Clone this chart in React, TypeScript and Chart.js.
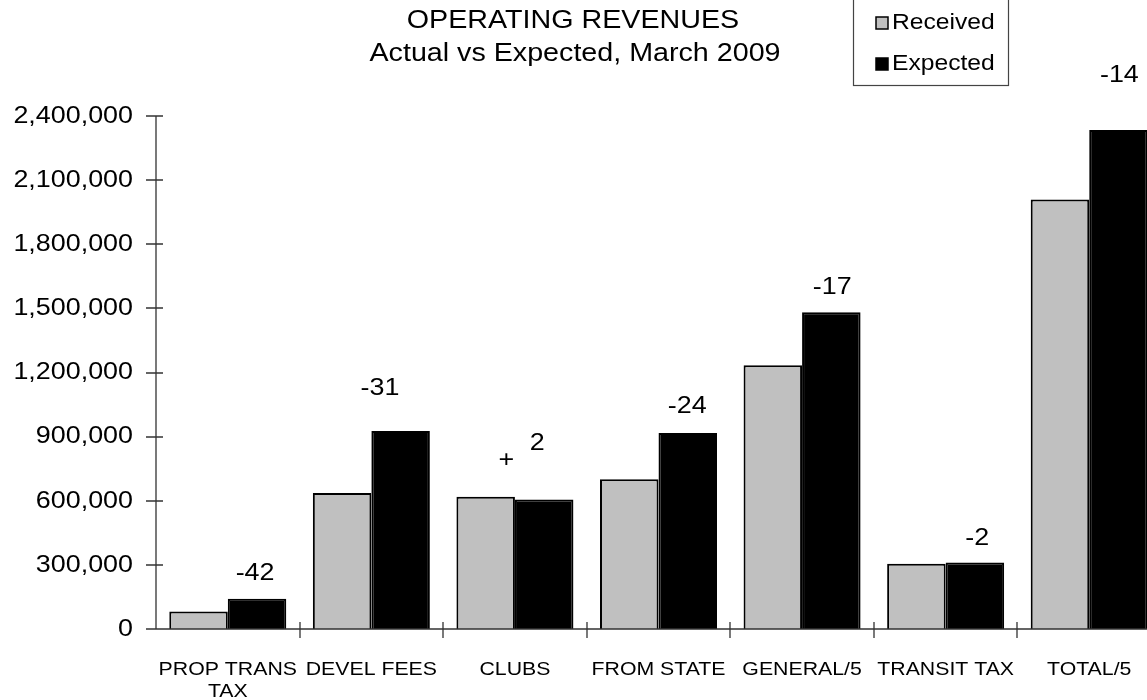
import React, { useEffect, useRef } from "react";
import { Chart, registerables } from "chart.js";

Chart.register(...registerables);

// ---------- data ----------
const categories: (string | string[])[] = [
  ["PROP TRANS", "TAX"],
  "DEVEL FEES",
  "CLUBS",
  "FROM STATE",
  "GENERAL/5",
  "TRANSIT TAX",
  "TOTAL/5",
];
const seriesNames = ["Received", "Expected"];
const received = [83000, 637000, 620000, 701000, 1235000, 306000, 2010000];
const expected = [143000, 927000, 607000, 918000, 1482000, 312000, 2335000];

const yMin = 0;
const yMax = 2400000;
const yStep = 300000;

// percent-change annotations (value = height in data units, shift = fraction of category width)
const changeLabels = ["-42", "-31", "2", "-24", "-17", "-2", "-14"];
const changeLabelValues = [263000, 1128000, 871000, 1043000, 1600000, 427000, 2590000];
const changeLabelShift = [0.19, 0.06, 0.155, 0.2, 0.21, 0.22, 0.21];
const signLabels = ["", "", "+", "", "", "", ""];
const signLabelValues = [0, 0, 791000, 0, 0, 0, 0];
const signLabelShift = [0, 0, -0.06, 0, 0, 0, 0];

const titleLines = ["OPERATING REVENUES", "Actual vs Expected, March 2009"];

// ---------- styling ----------
const FONT = '"Liberation Sans", Arial, sans-serif';
const STRETCH = 1.12;
const GREY = "#C0C0C0";
const BLACK = "#000000";
const AXIS = "#333333";

function drawText(
  ctx: CanvasRenderingContext2D,
  text: string,
  x: number,
  y: number,
  align: CanvasTextAlign,
  size: number
) {
  ctx.save();
  ctx.font = `${size}px ${FONT}`;
  ctx.fillStyle = "#000";
  ctx.textAlign = align;
  ctx.textBaseline = "middle";
  ctx.translate(x, y);
  ctx.scale(STRETCH, 1);
  ctx.fillText(text, 0, 0);
  ctx.restore();
}

const decorPlugin = {
  id: "decor",
  afterDraw(chart: any) {
    const ctx: CanvasRenderingContext2D = chart.ctx;
    const area = chart.chartArea;
    const xs = chart.scales.x;
    const ys = chart.scales.y;

    // axes
    ctx.save();
    ctx.strokeStyle = AXIS;
    ctx.lineWidth = 1.3;
    const ax = Math.round(area.left);
    const ay = Math.round(area.bottom);
    ctx.beginPath();
    ctx.moveTo(ax, Math.round(ys.getPixelForValue(yMax)));
    ctx.lineTo(ax, ay);
    ctx.moveTo(ax - 10, ay);
    ctx.lineTo(area.right + 2, ay);
    // y ticks (crossing)
    for (let v = yMin; v <= yMax; v += yStep) {
      const py = Math.round(ys.getPixelForValue(v));
      ctx.moveTo(ax - 10, py);
      ctx.lineTo(ax + 7, py);
    }
    // x ticks at category boundaries (crossing)
    const n = categories.length;
    const cw = (area.right - area.left) / n;
    for (let i = 1; i <= n; i++) {
      const px = Math.round(xs.getPixelForValue(i - 1) + cw / 2);
      ctx.moveTo(px, ay - 7);
      ctx.lineTo(px, ay + 9);
    }
    ctx.stroke();
    ctx.restore();

    // y tick labels
    for (let v = yMin; v <= yMax; v += yStep) {
      const py = ys.getPixelForValue(v);
      drawText(ctx, v.toLocaleString("en-US"), ax - 23, py, "right", 24);
    }

    // x category labels
    categories.forEach((c, i) => {
      const px = xs.getPixelForValue(i);
      const lines = Array.isArray(c) ? c : [c];
      lines.forEach((ln, j) => {
        drawText(ctx, ln, px, ay + 41 + j * 22, "center", 19);
      });
    });

    // annotations
    categories.forEach((_, i) => {
      const cx = xs.getPixelForValue(i);
      if (changeLabels[i]) {
        drawText(
          ctx,
          changeLabels[i],
          cx + changeLabelShift[i] * cw,
          ys.getPixelForValue(changeLabelValues[i]),
          "center",
          24
        );
      }
      if (signLabels[i]) {
        drawText(
          ctx,
          signLabels[i],
          cx + signLabelShift[i] * cw,
          ys.getPixelForValue(signLabelValues[i]),
          "center",
          24
        );
      }
    });

    // title
    const tx = 573;
    drawText(ctx, titleLines[0], tx, 21, "center", 25.6);
    drawText(ctx, titleLines[1], tx + 2, 54, "center", 25.6);

    // legend
    ctx.save();
    ctx.strokeStyle = "#444";
    ctx.lineWidth = 1.2;
    ctx.strokeRect(853.5, -5, 155, 90.5);
    const ds = chart.data.datasets;
    ds.forEach((d: any, k: number) => {
      const cy = 23 + k * 41;
      ctx.fillStyle = d.backgroundColor;
      ctx.fillRect(876, cy - 6, 12, 12);
      ctx.strokeStyle = "#000";
      ctx.lineWidth = 1.5;
      ctx.strokeRect(876, cy - 6, 12, 12);
      drawText(ctx, d.label, 892, cy, "left", 22);
    });
    ctx.restore();
  },
};

export default function App() {
  const ref = useRef<HTMLCanvasElement | null>(null);

  useEffect(() => {
    if (!ref.current) return;
    const chart = new Chart(ref.current, {
      type: "bar",
      data: {
        labels: categories as any,
        datasets: [
          {
            label: seriesNames[0],
            data: received,
            backgroundColor: GREY,
            borderColor: BLACK,
            borderWidth: 2,
          },
          {
            label: seriesNames[1],
            data: expected,
            backgroundColor: BLACK,
            borderColor: BLACK,
            borderWidth: 2,
          },
        ],
      },
      options: {
        animation: false,
        responsive: false,
        devicePixelRatio: 1,
        layout: { padding: { top: 116, left: 0, right: 0, bottom: 0 } },
        datasets: {
          bar: { categoryPercentage: 0.815, barPercentage: 1.0 },
        },
        plugins: {
          legend: { display: false },
          title: { display: false },
          tooltip: { enabled: false },
        },
        scales: {
          x: {
            grid: { display: false },
            border: { display: false },
            ticks: { display: false },
            afterFit: (s: any) => {
              s.height = 70.7;
            },
          },
          y: {
            min: yMin,
            max: yMax,
            grid: { display: false },
            border: { display: false },
            ticks: { display: false, stepSize: yStep },
            afterFit: (s: any) => {
              s.width = 156;
            },
          },
        },
      },
      plugins: [decorPlugin],
    });
    return () => chart.destroy();
  }, []);

  return (
    <div
      style={{
        position: "fixed",
        left: 0,
        top: 0,
        width: 1147,
        height: 700,
        overflow: "hidden",
        background: "#fff",
      }}
    >
      <canvas ref={ref} width={1161} height={700} style={{ display: "block" }} />
    </div>
  );
}
